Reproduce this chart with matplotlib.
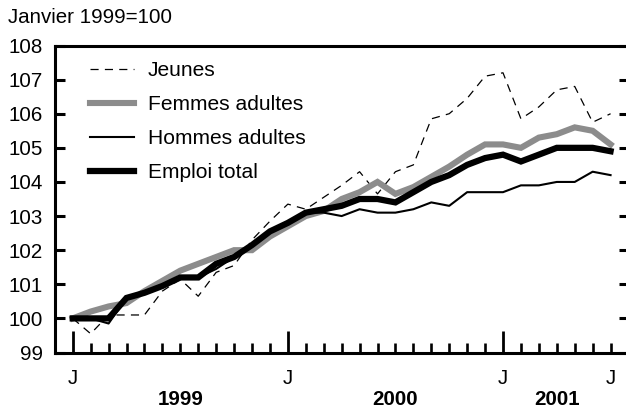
import matplotlib
matplotlib.use("Agg")
import matplotlib.pyplot as plt
import matplotlib.transforms as mtransforms

plt.rcParams['font.family'] = ['Liberation Sans', 'DejaVu Sans']

# Monthly index, January 1999 = 100 (Jan 1999 .. Jul 2001)
months = list(range(31))
jeunes = [100.0, 99.55, 100.1, 100.1, 100.1, 100.8, 101.15, 100.65, 101.35, 101.55,
          102.3, 102.85, 103.35, 103.2, 103.55, 103.9, 104.3, 103.65, 104.3, 104.5,
          105.85, 106.0, 106.45, 107.1, 107.2, 105.85, 106.2, 106.7, 106.8, 105.75, 106.0]
femmes = [100.0, 100.2, 100.35, 100.45, 100.8, 101.1, 101.4, 101.6, 101.8, 102.0,
          102.0, 102.4, 102.7, 103.0, 103.15, 103.5, 103.7, 104.0, 103.65, 103.85,
          104.15, 104.45, 104.8, 105.1, 105.1, 105.0, 105.3, 105.4, 105.6, 105.5, 105.1]
hommes = [100.0, 100.0, 99.85, 100.6, 100.75, 100.95, 101.15, 101.2, 101.45, 101.8,
          102.15, 102.55, 102.8, 103.1, 103.1, 103.0, 103.2, 103.1, 103.1, 103.2,
          103.4, 103.3, 103.7, 103.7, 103.7, 103.9, 103.9, 104.0, 104.0, 104.3, 104.2]
total = [100.0, 100.0, 100.0, 100.6, 100.75, 100.95, 101.2, 101.2, 101.6, 101.8,
         102.15, 102.55, 102.8, 103.1, 103.2, 103.3, 103.5, 103.5, 103.4, 103.7,
         104.0, 104.2, 104.5, 104.7, 104.8, 104.6, 104.8, 105.0, 105.0, 105.0, 104.9]

series_labels = ['Jeunes', 'Femmes adultes', 'Hommes adultes', 'Emploi total']
x_tick_pos = [0, 12, 24, 30]
x_tick_labels = ['J', 'J', 'J', 'J']
year_pos = [6, 18, 27]
year_labels = ['1999', '2000', '2001']
y_ticks = list(range(99, 109))

W, H = 626, 417
fig = plt.figure(figsize=(W / 100, H / 100), dpi=100)
ax_left = 54.8 / W
ax_right = 628.5 / W
ax_bottom = (H - 352.5) / H
ax_top = (H - 45.5) / H
ax = fig.add_axes([ax_left, ax_bottom, ax_right - ax_left, ax_top - ax_bottom])

fs = 14.8
ax.plot(months, jeunes, color='black', lw=0.9, dashes=(6.5, 5.0), label=series_labels[0])
ax.plot(months, femmes, color='#8c8c8c', lw=4.4, solid_joinstyle='miter', label=series_labels[1])
ax.plot(months, hommes, color='black', lw=1.5, label=series_labels[2])
ax.plot(months, total, color='black', lw=4.5, solid_joinstyle='miter', label=series_labels[3])

ax.set_xlim(-1, 31)
ax.set_ylim(99, 108)

for s in ax.spines.values():
    s.set_linewidth(2.2)

ax.set_yticks(y_ticks)
ax.set_yticklabels([str(v) for v in y_ticks])
ax.tick_params(axis='y', direction='in', left=True, right=True, length=7, width=2.2,
               labelsize=fs, pad=8.5)

ax.set_xticks(x_tick_pos)
ax.set_xticklabels(x_tick_labels)
ax.set_xticks([m for m in months if m not in x_tick_pos], minor=True)
ax.tick_params(axis='x', which='major', direction='in', length=16, width=2.0,
               labelsize=fs, pad=12)
ax.tick_params(axis='x', which='minor', direction='in', length=7.2, width=1.9)
# last "J" (July) has only a short tick
last = ax.xaxis.get_major_ticks()[-1]
last.tick1line.set_markersize(7.2)
last.tick1line.set_markeredgewidth(1.9)

trans = mtransforms.blended_transform_factory(ax.transData, fig.transFigure)
for xp, lab in zip(year_pos, year_labels):
    ax.text(xp, 1 - 405 / H, lab, transform=trans, ha='center', va='baseline',
            fontsize=fs, fontweight='bold')

fig.text(8 / W, 1 - 23 / H, 'Janvier 1999=100', ha='left', va='baseline', fontsize=fs)

leg = ax.legend(loc='upper left', bbox_to_anchor=((90 - 54.8) / 573.7, (352.5 - 61) / 307),
                frameon=False, fontsize=fs + 0.3, handlelength=2.1, handletextpad=0.65,
                labelspacing=0.72, borderpad=0, borderaxespad=0)

fig.savefig('out.png', dpi=100)
